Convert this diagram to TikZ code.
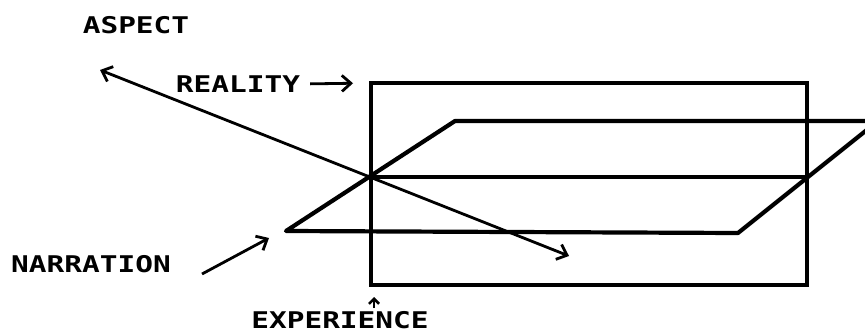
\documentclass[tikz,border=0pt]{standalone}
\usepackage{fontspec}
\usepackage{graphicx}
\newfontfamily\plotfont{DejaVu Sans Mono}
\usetikzlibrary{arrows.meta}
\newcommand\plbl[1]{\scalebox{1.28}[1]{\plotfont\bfseries\fontsize{23}{24}\selectfont #1}}
\tikzset{
  lbl/.style={inner sep=0pt, anchor=center},
  frame/.style={line width=3.2pt, line join=miter},
  plane/.style={line width=4.2pt, line join=round},
  arr/.style={line width=2.8pt, -{Straight Barb[length=9pt,width=16pt,line width=2.8pt]}},
  darr/.style={line width=2.8pt, {Straight Barb[length=9pt,width=16pt,line width=2.8pt]}-{Straight Barb[length=9pt,width=16pt,line width=2.8pt]}},
  sarr/.style={line width=2.6pt, -{Straight Barb[length=5pt,width=10pt,line width=2.6pt]}}
}
\begin{document}
\begin{tikzpicture}[x=1pt,y=-1pt]
\useasboundingbox (0,0) rectangle (865,334);
\clip (0,0) rectangle (865,334);
% rectangle (reality / experience frame)
\coordinate (rtl) at (371,83);
\coordinate (rbr) at (807,285);
\coordinate (ml) at (371,177);
\coordinate (mr) at (807,177);
\draw[frame] (rtl) rectangle (rbr);
\draw[frame] (ml) -- (mr);
% parallelogram (narration plane)
\coordinate (pbl) at (286,231);
\coordinate (ptl) at (455,121);
\coordinate (ptr) at (878,121);
\coordinate (pbr) at (738,233);
\draw[plane] (pbl) -- (ptl) -- (ptr) -- (pbr) -- cycle;
% aspect line
\coordinate (atip) at (100,70);
\coordinate (aend) at (569,256);
\draw[darr] (aend) -- (atip);
% labels
\node[lbl] (aspect) at (136,25) {\plbl{ASPECT}};
\node[lbl] (reality) at (238,84) {\plbl{REALITY}};
\node[lbl] (narration) at (91,264) {\plbl{NARRATION}};
\node[lbl] (experience) at (340,320) {\plbl{EXPERIENCE}};
% label arrows
\draw[arr, shorten <=10pt, shorten >=18pt] (reality.east) -- (rtl);
\coordinate (ntail) at (202,274);
\coordinate (ntip) at (269,238);
\draw[arr] (ntail) -- (ntip);
\coordinate (etail) at (374,308);
\coordinate (etip) at (374,297);
\draw[sarr] (etail) -- (etip);
\end{tikzpicture}
\end{document}
